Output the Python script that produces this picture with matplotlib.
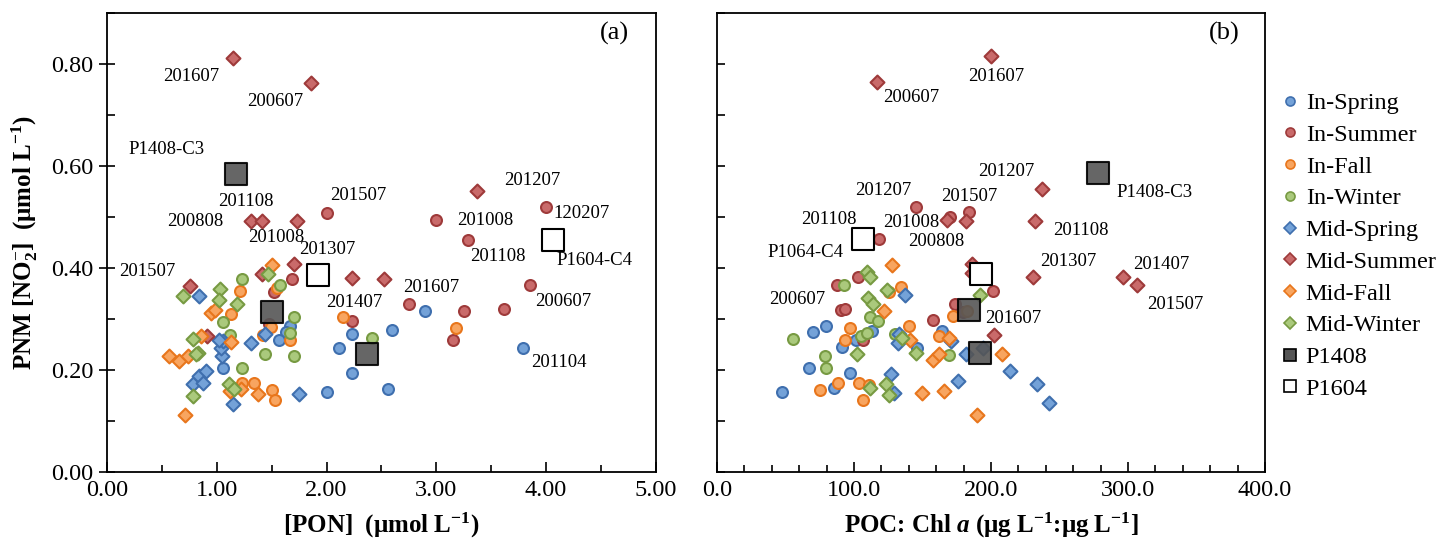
import matplotlib
matplotlib.use('Agg')
import matplotlib.pyplot as plt
from matplotlib.lines import Line2D
from matplotlib.ticker import MultipleLocator, FormatStrFormatter

plt.rcParams['font.family'] = ['Liberation Serif', 'DejaVu Serif']
plt.rcParams['mathtext.fontset'] = 'custom'
plt.rcParams['mathtext.rm'] = 'Liberation Serif'
plt.rcParams['mathtext.bf'] = 'Liberation Serif:bold'
plt.rcParams['mathtext.it'] = 'Liberation Serif:italic:bold'

series_names = ['In-Spring', 'In-Summer', 'In-Fall', 'In-Winter',
                'Mid-Spring', 'Mid-Summer', 'Mid-Fall', 'Mid-Winter', 'P1408', 'P1604']

# panel (a): [PON] vs PNM
pon_in_spring = [1.67, 1.63, 1.57, 2.23, 2.60, 2.11, 2.23, 2.56, 2.00, 1.06, 2.90, 3.785]
pnm_a_in_spring = [0.286, 0.275, 0.258, 0.270, 0.278, 0.243, 0.194, 0.163, 0.157, 0.203, 0.316, 0.243]
pon_in_summer = [2.00, 3.00, 3.285, 4.00, 3.855, 2.755, 3.255, 3.62, 3.155, 1.69, 1.52, 2.23, 1.48]
pnm_a_in_summer = [0.507, 0.495, 0.455, 0.520, 0.366, 0.329, 0.316, 0.320, 0.258, 0.378, 0.352, 0.296, 0.290]
pon_in_fall = [1.215, 1.13, 1.55, 1.49, 1.67, 1.42, 2.15, 1.50, 1.53, 1.34, 1.23, 3.18]
pnm_a_in_fall = [0.354, 0.310, 0.361, 0.285, 0.258, 0.269, 0.304, 0.160, 0.141, 0.175, 0.175, 0.283]
pon_in_winter = [1.06, 1.23, 1.58, 1.70, 1.67, 1.44, 1.70, 2.415, 1.23, 1.12]
pnm_a_in_winter = [0.295, 0.378, 0.367, 0.304, 0.273, 0.231, 0.227, 0.262, 0.203, 0.268]
pon_mid_spring = [0.84, 1.44, 1.75, 1.15, 0.78, 0.84, 0.90, 0.875, 1.05, 1.04, 1.06, 1.02, 1.31]
pnm_a_mid_spring = [0.345, 0.270, 0.152, 0.134, 0.172, 0.188, 0.198, 0.175, 0.227, 0.244, 0.257, 0.258, 0.252]
pon_mid_summer = [1.15, 1.855, 1.315, 1.415, 1.73, 3.37, 0.755, 1.41, 1.70, 2.23, 2.52, 0.91]
pnm_a_mid_summer = [0.812, 0.763, 0.492, 0.492, 0.492, 0.550, 0.365, 0.388, 0.408, 0.381, 0.378, 0.267]
pon_mid_fall = [1.50, 0.95, 0.98, 1.375, 1.225, 1.12, 0.71, 1.13, 0.566, 0.66, 0.74, 0.86]
pnm_a_mid_fall = [0.406, 0.312, 0.317, 0.152, 0.162, 0.159, 0.111, 0.255, 0.227, 0.218, 0.227, 0.267]
pon_mid_winter = [0.69, 1.03, 1.02, 1.185, 1.47, 1.11, 1.155, 0.78, 0.78, 0.83, 0.815]
pnm_a_mid_winter = [0.345, 0.358, 0.337, 0.329, 0.388, 0.172, 0.162, 0.149, 0.261, 0.234, 0.231]
pon_p1408 = [1.18, 1.50, 2.37]
pnm_a_p1408 = [0.584, 0.314, 0.231]
pon_p1604 = [1.92, 4.06]
pnm_a_p1604 = [0.386, 0.454]

# panel (b): POC:Chl a vs PNM
ratio_in_spring = [164.5, 146.2, 112.9, 101.5, 91.5, 67.4, 69.8, 79.6, 97.1, 85.6, 47.7]
pnm_b_in_spring = [0.276, 0.244, 0.276, 0.258, 0.245, 0.203, 0.275, 0.286, 0.195, 0.165, 0.157]
ratio_in_summer = [145.3, 184.2, 170.0, 118.5, 201.2, 173.7, 179.8, 157.4, 102.7, 87.8, 90.3, 93.4, 106.3]
pnm_b_in_summer = [0.520, 0.510, 0.499, 0.456, 0.354, 0.330, 0.314, 0.298, 0.382, 0.367, 0.317, 0.319, 0.258]
ratio_in_fall = [182.2, 172.5, 162.3, 140.4, 125.5, 134.3, 97.1, 93.4, 88.5, 75.2, 103.9, 106.3, 111.2]
pnm_b_in_fall = [0.316, 0.306, 0.267, 0.286, 0.353, 0.363, 0.282, 0.258, 0.175, 0.160, 0.175, 0.141, 0.170]
ratio_in_winter = [169.3, 129.9, 92.7, 111.7, 117.7, 104.9, 109.3, 78.8, 79.6, 55.7]
pnm_b_in_winter = [0.229, 0.270, 0.367, 0.304, 0.296, 0.267, 0.273, 0.227, 0.203, 0.261]
ratio_mid_spring = [194.4, 181.8, 213.9, 233.4, 175.7, 170.6, 133.1, 132.4, 137.2, 127.0, 129.4, 242.0]
pnm_b_mid_spring = [0.244, 0.231, 0.197, 0.173, 0.178, 0.256, 0.271, 0.252, 0.347, 0.192, 0.154, 0.135]
ratio_mid_summer = [116.6, 200.0, 237.0, 232.0, 167.7, 181.8, 186.4, 186.4, 230.9, 202.2, 296.1, 306.4]
pnm_b_mid_summer = [0.765, 0.816, 0.554, 0.492, 0.495, 0.492, 0.407, 0.390, 0.382, 0.268, 0.382, 0.366]
ratio_mid_fall = [207.8, 165.7, 149.4, 189.6, 157.4, 162.3, 169.6, 140.9, 121.9, 128.0]
pnm_b_mid_fall = [0.231, 0.159, 0.154, 0.111, 0.219, 0.231, 0.263, 0.258, 0.316, 0.406]
ratio_mid_winter = [192.0, 145.0, 134.8, 124.3, 109.3, 111.7, 110.4, 113.6, 102.0, 111.7, 123.4, 125.8]
pnm_b_mid_winter = [0.347, 0.234, 0.262, 0.356, 0.392, 0.382, 0.341, 0.329, 0.231, 0.165, 0.173, 0.151]
ratio_p1408 = [277.9, 184.2, 192.0]
pnm_b_p1408 = [0.587, 0.317, 0.234]
ratio_p1604 = [106.8, 192.5]
pnm_b_p1604 = [0.456, 0.389]

# labels: text, x, y
labels_a = [('201607', 0.77, 0.776), ('200607', 1.53, 0.727), ('P1408-C3', 0.543, 0.633),
            ('201108', 1.264, 0.531), ('200808', 0.807, 0.492), ('201507', 2.29, 0.543),
            ('201008', 1.54, 0.459), ('201307', 2.006, 0.437), ('201507', 0.367, 0.394),
            ('201407', 2.255, 0.332), ('201207', 3.87, 0.572), ('201008', 3.445, 0.494),
            ('201108', 3.56, 0.422), ('120207', 4.32, 0.506), ('P1604-C4', 4.44, 0.414),
            ('200607', 4.16, 0.335), ('201607', 2.95, 0.361), ('201104', 4.12, 0.214)]
labels_b = [('200607', 142, 0.734), ('201607', 203.6, 0.775), ('201207', 211.4, 0.590),
            ('201207', 121, 0.552), ('201507', 184.2, 0.541), ('201008', 142, 0.489),
            ('201108', 82, 0.495), ('200808', 160, 0.452), ('P1064-C4', 64.2, 0.430),
            ('200607', 58.6, 0.339), ('201607', 216, 0.301), ('P1408-C3', 319.7, 0.548),
            ('201108', 265.7, 0.474), ('201307', 256.4, 0.412), ('201407', 324.6, 0.406),
            ('201507', 334.3, 0.329)]

blue = ('#74a2d8', '#3f6fae')
red = ('#c96a6a', '#9e3a3a')
orange = ('#f8a560', '#e8761c')
green = ('#aac97c', '#779a42')
styles = [('o', blue, 62), ('o', red, 62), ('o', orange, 62), ('o', green, 62),
          ('D', blue, 50), ('D', red, 50), ('D', orange, 50), ('D', green, 50),
          ('s', ('#555555', 'black'), 270), ('s', ('white', 'black'), 270)]

data_a = [(pon_in_spring, pnm_a_in_spring), (pon_in_summer, pnm_a_in_summer),
          (pon_in_fall, pnm_a_in_fall), (pon_in_winter, pnm_a_in_winter),
          (pon_mid_spring, pnm_a_mid_spring), (pon_mid_summer, pnm_a_mid_summer),
          (pon_mid_fall, pnm_a_mid_fall), (pon_mid_winter, pnm_a_mid_winter),
          (pon_p1408, pnm_a_p1408), (pon_p1604, pnm_a_p1604)]
data_b = [(ratio_in_spring, pnm_b_in_spring), (ratio_in_summer, pnm_b_in_summer),
          (ratio_in_fall, pnm_b_in_fall), (ratio_in_winter, pnm_b_in_winter),
          (ratio_mid_spring, pnm_b_mid_spring), (ratio_mid_summer, pnm_b_mid_summer),
          (ratio_mid_fall, pnm_b_mid_fall), (ratio_mid_winter, pnm_b_mid_winter),
          (ratio_p1408, pnm_b_p1408), (ratio_p1604, pnm_b_p1604)]

fig = plt.figure(figsize=(14.55, 5.42), dpi=100)
ax_a = fig.add_axes([0.0735, 0.1292, 0.3773, 0.8469])
ax_b = fig.add_axes([0.4928, 0.1292, 0.3766, 0.8469])


def draw(ax, data, labels):
    for (xs, ys), (m, (fc, ec), s) in zip(data, styles):
        alpha = 0.9 if fc == '#555555' else 1.0
        ax.scatter(xs, ys, marker=m, s=s, facecolor=fc, edgecolor=ec,
                   linewidth=1.5, alpha=alpha, zorder=3)
    for txt, x, y in labels:
        ax.text(x, y, txt, fontsize=13.5, ha='center', va='center', zorder=4)
    ax.set_ylim(0, 0.9)
    ax.yaxis.set_major_locator(MultipleLocator(0.2))
    ax.yaxis.set_minor_locator(MultipleLocator(0.1))
    for sp in ax.spines.values():
        sp.set_linewidth(1.3)
    ax.tick_params(which='both', top=False, right=False, labelsize=17.5, width=1.2)
    ax.tick_params(axis='x', which='major', direction='in', length=7, pad=6)
    ax.tick_params(axis='x', which='minor', direction='in', length=5)


draw(ax_a, data_a, labels_a)
ax_a.set_xlim(0, 5)
ax_a.xaxis.set_major_locator(MultipleLocator(1))
ax_a.xaxis.set_minor_locator(MultipleLocator(0.5))
ax_a.xaxis.set_major_formatter(FormatStrFormatter('%.2f'))
ax_a.yaxis.set_major_formatter(FormatStrFormatter('%.2f'))
ax_a.tick_params(axis='y', which='major', direction='inout', length=12)
ax_a.tick_params(axis='y', which='minor', direction='in', length=6)
ax_a.set_xlabel(r'[PON]  ($\mathbf{\mu}$mol L$^{\mathbf{-1}}$)', fontsize=18, fontweight='bold', labelpad=7)
ax_a.set_ylabel(r'PNM [NO$_{\mathbf{2}}^{-}$]  ($\mathbf{\mu}$mol L$^{\mathbf{-1}}$)',
                fontsize=18, fontweight='bold', labelpad=8)
ax_a.text(0.925, 0.955, '(a)', transform=ax_a.transAxes, fontsize=19, ha='center', va='center')

draw(ax_b, data_b, labels_b)
ax_b.set_xlim(0, 400)
ax_b.xaxis.set_major_locator(MultipleLocator(100))
ax_b.xaxis.set_minor_locator(MultipleLocator(20))
ax_b.xaxis.set_major_formatter(FormatStrFormatter('%.1f'))
ax_b.tick_params(axis='y', which='both', direction='in', length=6, labelleft=False)
ax_b.set_xlabel(r'POC: Chl $\mathit{a}$ ($\mathbf{\mu}$g L$^{\mathbf{-1}}$:$\mathbf{\mu}$g L$^{\mathbf{-1}}$]',
                fontsize=18, fontweight='bold', labelpad=7)
ax_b.text(0.925, 0.955, '(b)', transform=ax_b.transAxes, fontsize=19, ha='center', va='center')

handles = []
for name, (m, (fc, ec), s) in zip(series_names, styles):
    ms = 9 if m == 's' else 6.5
    handles.append(Line2D([], [], linestyle='none', marker=m, markersize=ms,
                          markerfacecolor=fc, markeredgecolor=ec, markeredgewidth=1.2, label=name))
fig.legend(handles=handles, loc='upper left', bbox_to_anchor=(0.874, 0.848), frameon=False,
           fontsize=17.5, handlelength=0.7, handletextpad=0.3, labelspacing=0.4, borderaxespad=0)

fig.savefig('out.png', dpi=100)
